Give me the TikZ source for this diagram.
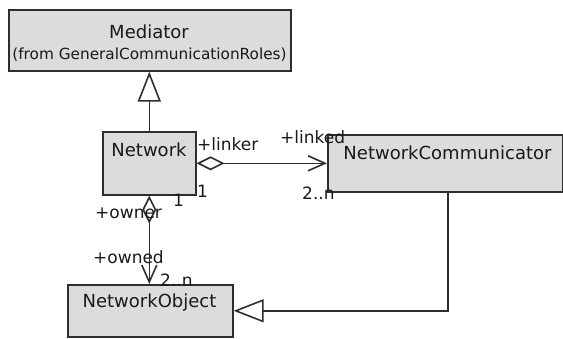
\documentclass[tikz,border=0pt]{standalone}
\usepackage{fontspec}
\setmainfont{DejaVu Sans}
\usetikzlibrary{arrows.meta}
\definecolor{boxfill}{HTML}{DCDCDC}
\definecolor{ink}{HTML}{2E2E2E}
\begin{document}
\begin{tikzpicture}[x=1pt,y=-1pt,
  classbox/.style={draw=ink, fill=boxfill, line width=1.6pt, rectangle,
    inner sep=0pt, anchor=north west},
  classname/.style={font=\fontsize{18}{20}\selectfont, inner sep=0pt, text=black!90},
  fromtext/.style={font=\fontsize{15.3}{17}\selectfont, inner sep=0pt, text=black!90},
  role/.style={font=\fontsize{17}{19}\selectfont, inner sep=0pt, anchor=base west, text=black!90},
  link/.style={draw=ink, line width=1.6pt},
  gen/.style={link, -{Triangle[length=30pt, width=23pt, fill=white, line width=1.6pt]}},
  agg/.style={link, {Diamond[length=28pt, width=14pt, fill=white, line width=1.6pt]}-{Straight Barb[length=17pt, width=15pt, line width=1.6pt]}}
]
\useasboundingbox (0,0) rectangle (563,338);

% classes
\node[classbox, minimum width=282pt, minimum height=61pt] (mediator) at (8,9) {};
\node[classname] (mediatorname) at (149,32) {Mediator};
\node[fromtext] (mediatorfrom) at (149.5,55) {(from GeneralCommunicationRoles)};

\node[classbox, minimum width=93pt, minimum height=63pt] (network) at (102,131) {};
\node[classname] (networkname) at (149,150) {Network};

\node[classbox, minimum width=235pt, minimum height=57pt] (comm) at (327,134) {};
\node[classname] (commname) at (447.5,153) {NetworkCommunicator};

\node[classbox, minimum width=165pt, minimum height=52pt] (object) at (67,284) {};
\node[classname] (objectname) at (149.5,303) {NetworkObject};

% relations
\draw[gen] (network.north) -- (network.north |- mediator.south);
\draw[agg] (network.east) -- (comm.west |- network.east);
\draw[agg] (network.south) -- (network.south |- object.north);
\draw[gen] ([xshift=2.5pt]comm.south) |- (object.east);

% role names and multiplicities
\node[role] (linker) at (197,150) {+linker};
\node[role] (linked) at (280,143) {+linked};
\node[role] (mlinked) at (302,199) {2..n};
\node[role] (mlinker) at (197,197) {1};
\node[role] (mowner) at (173,206) {1};
\node[role] (owner) at (95,218) {+owner};
\node[role] (owned) at (93,263) {+owned};
\node[role] (mowned) at (160,286) {2..n};
\end{tikzpicture}
\end{document}
